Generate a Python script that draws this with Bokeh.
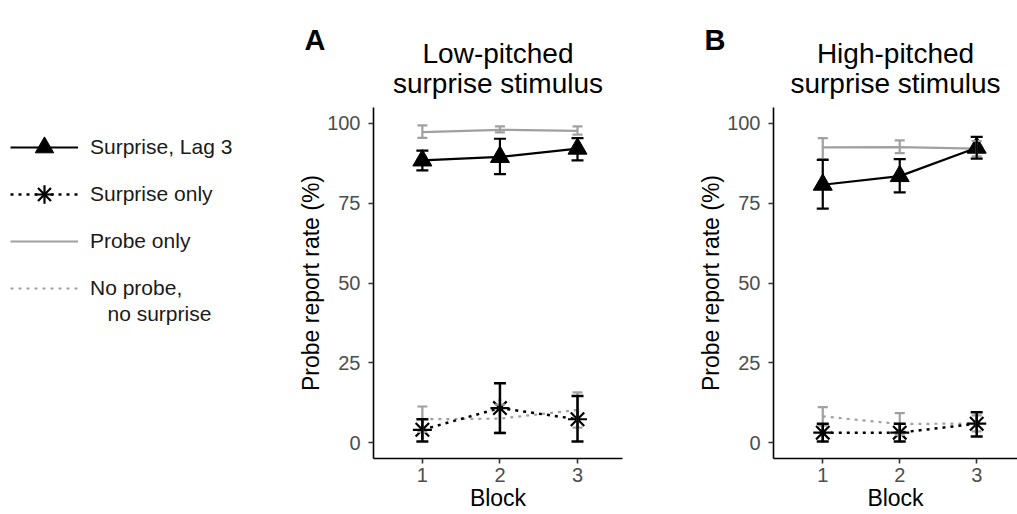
from bokeh.plotting import figure
from bokeh.models import (ColumnDataSource, Whisker, TeeHead, Label, Legend,
                          LegendItem, FixedTicker, Range1d)
from bokeh.layouts import row, column
from bokeh.embed import file_html
from bokeh.resources import INLINE

# ---------------- data ----------------
blocks = [1, 2, 3]
y_ticks = [0, 25, 50, 75, 100]

# Panel A: low-pitched surprise stimulus
lag3_A = [88.4, 89.5, 92.1]
lag3_A_lo = [85.3, 84.1, 88.4]
lag3_A_hi = [91.5, 95.2, 95.4]
surp_A = [4.0, 10.8, 7.3]
surp_A_lo = [0.3, 3.0, 0.3]
surp_A_hi = [7.3, 18.6, 14.6]
probe_A = [97.3, 98.0, 97.7]
probe_A_lo = [95.5, 97.2, 96.5]
probe_A_hi = [99.4, 99.1, 99.1]
noprobe_A = [7.3, 7.5, 10.2]
noprobe_A_lo = [3.3, 3.1, 4.7]
noprobe_A_hi = [11.3, 11.9, 15.7]

# Panel B: high-pitched surprise stimulus
lag3_B = [80.8, 83.5, 92.4]
lag3_B_lo = [73.3, 78.4, 89.0]
lag3_B_hi = [88.6, 88.8, 95.8]
surp_B = [3.1, 3.1, 5.9]
surp_B_lo = [0.3, 0.3, 1.9]
surp_B_hi = [5.9, 5.9, 9.5]
probe_B = [92.5, 92.6, 92.1]
probe_B_lo = [88.8, 90.7, 89.7]
probe_B_hi = [95.4, 94.7, 94.5]
noprobe_B = [8.2, 5.8, 6.0]
noprobe_B_lo = [5.3, 2.4, 3.5]
noprobe_B_hi = [11.1, 9.2, 8.5]

series_names = ["Surprise, Lag 3", "Surprise only", "Probe only", "No probe,"]
series_name_cont = "no surprise"
titles = [("A", "Low-pitched", "surprise stimulus"),
          ("B", "High-pitched", "surprise stimulus")]

FONT = "Liberation Sans"
BLACK = "#000000"
GRAY = "#A0A0A0"
H = 514
TOP = 107


def make_sources(y, lo, hi):
    return ColumnDataSource(dict(x=blocks, y=y, lo=lo, hi=hi))


def add_series(p, src, color, dash, lw, cap, marker=None):
    w = Whisker(base="x", lower="lo", upper="hi", source=src, dimension="height",
                line_color=color, line_width=lw, level="glyph",
                upper_head=TeeHead(size=cap, line_color=color, line_width=lw),
                lower_head=TeeHead(size=cap, line_color=color, line_width=lw))
    p.add_layout(w)
    p.line("x", "y", source=src, line_color=color, line_width=lw, line_dash=dash)
    if marker == "triangle":
        p.scatter("x", "y", source=src, marker="triangle", size=19,
                  fill_color=color, line_color=color)
    elif marker == "asterisk":
        p.scatter("x", "y", source=src, marker="asterisk", size=19,
                  line_color=color, line_width=2.2)


def title_fig(idx, width, bl, br):
    letter, t1, t2 = titles[idx]
    tf = figure(width=width, height=TOP, x_range=Range1d(0, 1), y_range=Range1d(0, 1),
                x_axis_type=None, y_axis_type=None, output_backend="svg",
                toolbar_location=None, tools="", min_border=0, frame_align=False)
    tf.outline_line_color = None
    tf.grid.visible = False
    cx = bl + (width - bl - br) / 2
    tf.add_layout(Label(x=14, y=TOP - 39, x_units="screen", y_units="screen", text=letter,
                        text_font=FONT, text_font_style="bold", text_font_size="29px",
                        text_color="#000000", text_baseline="alphabetic", text_align="left"))
    tf.add_layout(Label(x=cx, y=TOP - 53.3, x_units="screen", y_units="screen", text=t1,
                        text_font=FONT, text_font_size="28px", text_color="#000000",
                        text_baseline="alphabetic", text_align="center"))
    tf.add_layout(Label(x=cx, y=TOP - 83.3, x_units="screen", y_units="screen", text=t2,
                        text_font=FONT, text_font_size="28px", text_color="#000000",
                        text_baseline="alphabetic", text_align="center"))
    return tf


def panel(sources, width, bl, br, x0, x1):
    p = figure(width=width, height=H - TOP, x_range=Range1d(x0, x1),
               y_range=Range1d(-5, 105), output_backend="svg",
               toolbar_location=None, tools="", min_border_left=bl,
               min_border_right=br, min_border_top=0, min_border_bottom=56,
               frame_align=False)
    p.outline_line_color = None
    p.grid.visible = False

    p.xaxis.ticker = FixedTicker(ticks=blocks)
    p.yaxis.ticker = FixedTicker(ticks=y_ticks)
    p.xaxis.axis_label = "Block"
    p.yaxis.axis_label = "Probe report rate (%)"
    for ax in (p.xaxis, p.yaxis):
        ax.axis_label_text_font = FONT
        ax.axis_label_text_font_style = "normal"
        ax.axis_label_text_font_size = "23px"
        ax.axis_label_text_color = "#000000"
        ax.major_label_text_font = FONT
        ax.major_label_text_font_size = "20px"
        ax.major_label_text_color = "#4D4D4D"
        ax.axis_line_color = "#000000"
        ax.axis_line_width = 1.6
        ax.major_tick_line_color = "#333333"
        ax.major_tick_line_width = 1.6
        ax.major_tick_out = 5
        ax.major_tick_in = 0
        ax.minor_tick_line_color = None
    p.yaxis.major_label_standoff = 8
    p.yaxis.axis_label_standoff = 0
    p.xaxis.major_label_standoff = 4
    p.xaxis.axis_label_standoff = 0

    s_lag3, s_surp, s_probe, s_nop = sources
    add_series(p, s_probe, GRAY, "solid", 2.2, 10)
    add_series(p, s_nop, GRAY, "3 5", 2.2, 10)
    add_series(p, s_lag3, BLACK, "solid", 2.2, 12, "triangle")
    add_series(p, s_surp, BLACK, "3 5", 2.5, 12, "asterisk")
    return p


srcA = (make_sources(lag3_A, lag3_A_lo, lag3_A_hi),
        make_sources(surp_A, surp_A_lo, surp_A_hi),
        make_sources(probe_A, probe_A_lo, probe_A_hi),
        make_sources(noprobe_A, noprobe_A_lo, noprobe_A_hi))
srcB = (make_sources(lag3_B, lag3_B_lo, lag3_B_hi),
        make_sources(surp_B, surp_B_lo, surp_B_hi),
        make_sources(probe_B, probe_B_lo, probe_B_hi),
        make_sources(noprobe_B, noprobe_B_lo, noprobe_B_hi))

pA = panel(srcA, 400, 83, 68, 0.37, 3.58)
pB = panel(srcB, 327, 83, 0, 0.36, 3.53)
tA = title_fig(0, 400, 83, 68)
tB = title_fig(1, 327, 83, 0)

# ---------------- legend panel ----------------
# legend renderers reuse panel A's data, kept outside this panel's visible range
LEG_TOP = 124
lf = figure(width=290, height=H, x_range=Range1d(10, 11), y_range=Range1d(0, 1),
            x_axis_type=None, y_axis_type=None, output_backend="svg",
            toolbar_location=None, tools="", min_border_left=10, min_border_right=0,
            min_border_top=LEG_TOP, min_border_bottom=0, frame_align=False)
lf.outline_line_color = None
lf.grid.visible = False
r1l = lf.line("x", "y", source=srcA[0], line_color=BLACK, line_width=2.2)
r1m = lf.scatter("x", "y", source=srcA[0], marker="triangle", size=19,
                 fill_color=BLACK, line_color=BLACK)
r2l = lf.line("x", "y", source=srcA[1], line_color=BLACK, line_width=2.5, line_dash="3 5")
r2m = lf.scatter("x", "y", source=srcA[1], marker="asterisk", size=19,
                 line_color=BLACK, line_width=2.2)
r3l = lf.line("x", "y", source=srcA[2], line_color=GRAY, line_width=2.2)
r4l = lf.line("x", "y", source=srcA[3], line_color=GRAY, line_width=2.2, line_dash="3 5")
legend = Legend(items=[
    LegendItem(label=series_names[0], renderers=[r1l, r1m]),
    LegendItem(label=series_names[1], renderers=[r2l, r2m]),
    LegendItem(label=series_names[2], renderers=[r3l]),
    LegendItem(label=series_names[3], renderers=[r4l]),
], location="top_left")
legend.glyph_width = 68
legend.glyph_height = 46
legend.label_standoff = 12
legend.spacing = 1
legend.padding = 0
legend.margin = 0
legend.border_line_color = None
legend.background_fill_alpha = 0
legend.label_text_font = FONT
legend.label_text_font_size = "21px"
legend.label_text_color = "#1A1A1A"
lf.add_layout(legend)
# second line of the last legend label
lf.add_layout(Label(x=97, y=H - LEG_TOP - 189.3, x_units="screen", y_units="screen",
                    text=series_name_cont, text_font=FONT, text_font_size="21px",
                    text_color="#1A1A1A", text_baseline="middle", text_align="left"))

layout = row(lf, column(tA, pA), column(tB, pB))
open("out.html", "w").write(file_html(layout, INLINE))
